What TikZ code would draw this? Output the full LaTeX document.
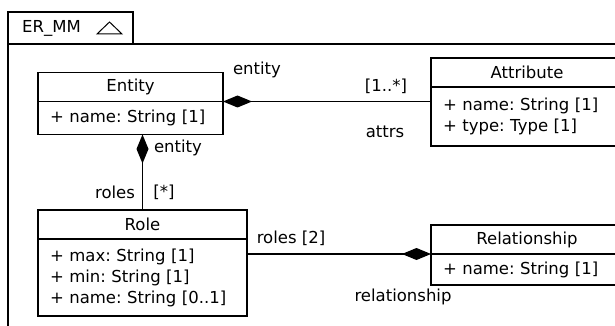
\documentclass[tikz,border=0pt]{standalone}
\usepackage{fontspec}
\setmainfont{DejaVu Sans}
\frenchspacing
\usetikzlibrary{arrows.meta,positioning}

\tikzset{
  clsname/.style={draw,line width=1.3pt,inner sep=0pt,outer sep=0pt,minimum height=29pt},
  clsattrs/.style={draw,line width=1.3pt,inner xsep=12pt,inner ysep=0pt,outer sep=0pt,align=left},
  comp/.style={line width=1.2pt,arrows={Diamond[length=29pt,width=12pt]-}},
  endlabel/.style={inner sep=0pt},
}

\begin{document}
\begin{tikzpicture}[x=1pt,y=-1pt,font=\fontsize{16.5}{21}\selectfont]
  \clip (0,0) rectangle (615,326);
  \fill[white] (0,0) rectangle (615,326);

  % package frame with tab
  \draw[line width=1.3pt] (8,44) -- (8,12) -- (133,12) -- (133,44);
  \draw[line width=1.3pt] (8,340) -- (8,44) -- (640,44);
  \node[endlabel,anchor=west] (pkgname) at (22,28) {ER\_MM};
  \draw[line width=1pt] (97,34) -- (122,34) -- (109.5,22) -- cycle;

  % classes
  \node[clsname,minimum width=185pt] (entity) at (130.5,87) {Entity};
  \node[clsattrs,text width=161pt,minimum height=33pt,below=0pt of entity] (entityAttrs)
    {+ name: String [1]};

  \node[clsname,minimum width=192pt] (attribute) at (527,72.5) {Attribute};
  \node[clsattrs,text width=168pt,minimum height=59pt,below=0pt of attribute] (attributeAttrs)
    {+ name: String [1]\\+ type: Type [1]};

  \node[clsname,minimum width=209pt] (role) at (142.5,224.5) {Role};
  \node[clsattrs,text width=185pt,minimum height=77pt,below=0pt of role] (roleAttrs)
    {+ max: String [1]\\+ min: String [1]\\+ name: String [0..1]};

  \node[clsname,minimum width=192pt] (relationship) at (527,239.5) {Relationship};
  \node[clsattrs,text width=168pt,minimum height=31pt,below=0pt of relationship] (relationshipAttrs)
    {+ name: String [1]};

  % compositions
  \draw[comp] (entity.south east) -- (entity.south east -| attributeAttrs.west);
  \draw[comp] (role.north |- entityAttrs.south) -- (role.north);
  \draw[comp] (relationship.south west) -- (relationship.south west -| roleAttrs.east);

  % role names and multiplicities
  \node[endlabel] (attrOwner) at (257,70) {entity};
  \node[endlabel] (attrMult) at (386,86) {[1..*]};
  \node[endlabel] (attrName) at (385,132) {attrs};
  \node[endlabel] (roleOwner) at (178,148) {entity};
  \node[endlabel] (roleName) at (115,192) {roles};
  \node[endlabel] (roleMult) at (164,192) {[*]};
  \node[endlabel] (relRoles) at (291,238) {roles [2]};
  \node[endlabel] (relOwner) at (403,297) {relationship};
\end{tikzpicture}
\end{document}
